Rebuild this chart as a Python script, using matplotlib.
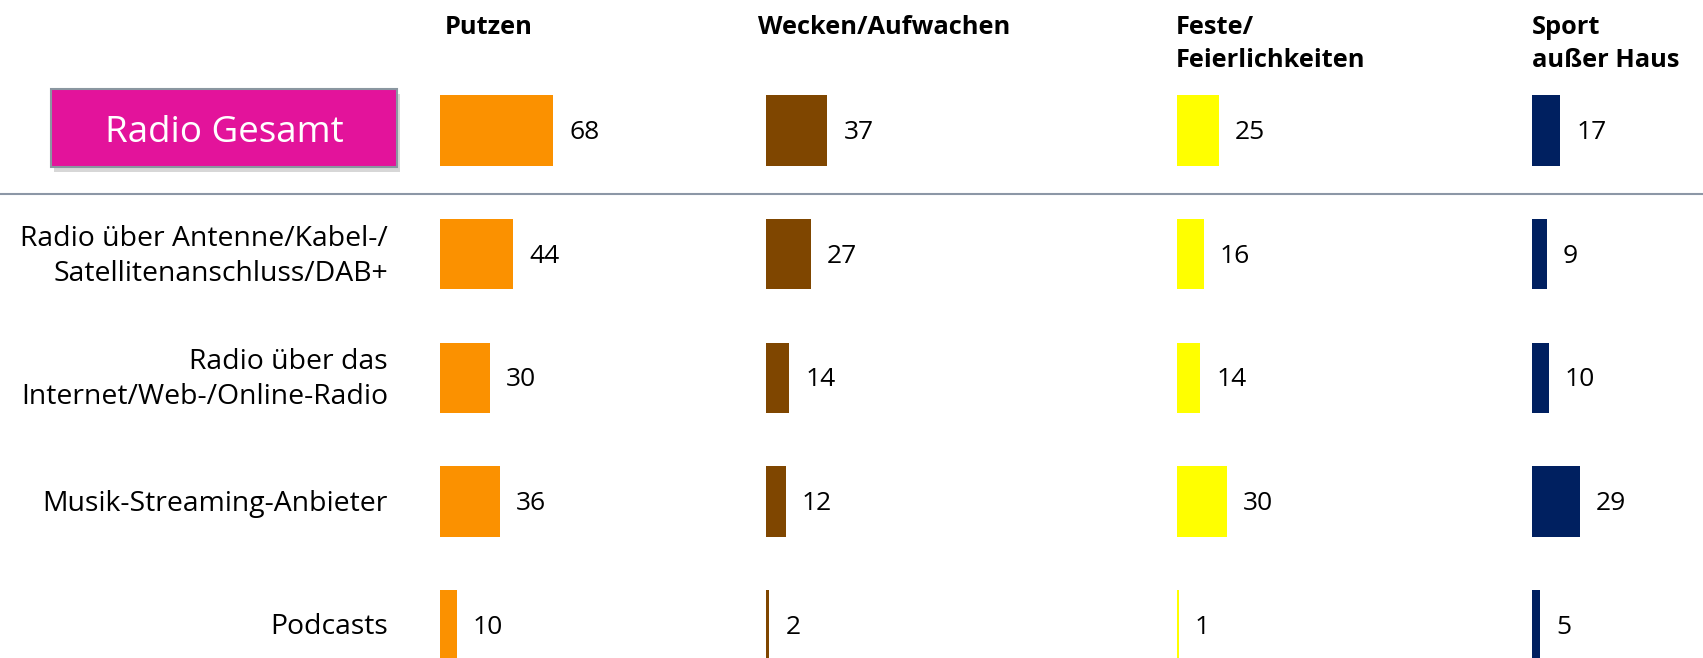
import matplotlib.pyplot as plt
from matplotlib.patches import Rectangle

# Data
rows = ['Radio Gesamt',
        'Radio über Antenne/Kabel-/\nSatellitenanschluss/DAB+',
        'Radio über das\nInternet/Web-/Online-Radio',
        'Musik-Streaming-Anbieter',
        'Podcasts']
columns = ['Putzen', 'Wecken/Aufwachen', 'Feste/\nFeierlichkeiten', 'Sport\naußer Haus']
putzen = [68, 44, 30, 36, 10]
wecken = [37, 27, 14, 12, 2]
feste = [25, 16, 14, 30, 1]
sport = [17, 9, 10, 29, 5]
values = [putzen, wecken, feste, sport]
colors = ['#FB9100', '#7F4600', '#FFFF00', '#002060']

W, H = 1703, 658
fig = plt.figure(figsize=(W / 100, H / 100), dpi=100)
plt.rcParams['font.family'] = ['Open Sans', 'DejaVu Sans']

# layout in pixels
col_x = [440, 766, 1177, 1532]
px_per_unit = 1.662
row0_y = 130.3
row_step = 123.8
axw = 300

y_top = -row0_y / row_step
y_bot = (H - row0_y) / row_step

for cx, vals, col in zip(col_x, values, colors):
    ax = fig.add_axes([cx / W, 0, axw / W, 1])
    ax.barh(range(len(vals)), vals, height=0.57, color=col, edgecolor='none')
    ax.set_xlim(0, axw / px_per_unit)
    ax.set_ylim(y_bot, y_top)
    ax.axis('off')
    for i, v in enumerate(vals):
        ax.annotate(str(v), (v, i), xytext=(16, -2), textcoords='offset pixels',
                    ha='left', va='center', fontsize=19, color='black')

# column headers
head_x = [445, 758, 1176, 1532]
for hx, name in zip(head_x, columns):
    fig.text(hx / W, 1 - 15 / H, name, ha='left', va='top', fontsize=18.3,
             fontweight='bold', linespacing=1.43)

# row labels
for i, name in enumerate(rows[1:], start=1):
    yc = row0_y + row_step * i + 2
    fig.text(388 / W, 1 - yc / H, name, ha='right', va='center', fontsize=20.4,
             linespacing=1.33)

# Radio Gesamt box with shadow
bx0, by0, bx1, by1 = 51, 89, 397, 167
shadow = Rectangle((bx0 + 3, H - by1 - 5), bx1 - bx0, by1 - by0,
                   transform=None, facecolor='#B0B0B0', alpha=0.5, edgecolor='none')
fig.patches.append(shadow)
box = Rectangle((bx0, H - by1), bx1 - bx0, by1 - by0, transform=None,
                facecolor='#E3139B', edgecolor='#8A96A0', linewidth=1.5)
fig.patches.append(box)
fig.text((bx0 + bx1) / 2 / W, 1 - ((by0 + by1) / 2 + 5) / H, rows[0], ha='center',
         va='center', fontsize=26.5, color='white')

# separator line
fig.add_artist(plt.Line2D([0, 1], [1 - 194 / H, 1 - 194 / H], color='#8C97A6',
                          linewidth=1.5))

plt.savefig('out.png', dpi=100)
